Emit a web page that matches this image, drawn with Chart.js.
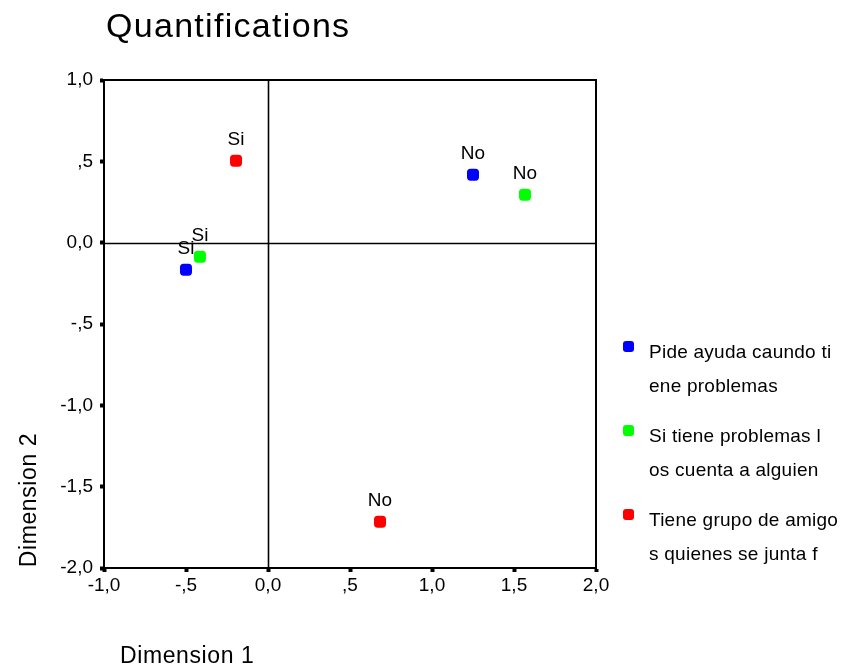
<!DOCTYPE html>
<html>
<head>
<meta charset="utf-8">
<title>Quantifications</title>
<script src="https://cdn.jsdelivr.net/npm/chart.js@4.4.1/dist/chart.umd.min.js"></script>
<style>
  html, body { margin: 0; padding: 0; background: #ffffff; }
  #wrap { width: 844px; height: 665px; position: relative; }
</style>
</head>
<body>
<div id="wrap"><canvas id="c" width="844" height="665"></canvas></div>
<script>
// Category quantifications on the two dimensions
const categories = ['Si', 'No'];
const pideDim1 = [-0.50, 1.25];
const pideDim2 = [-0.166, 0.418];
const cuentaDim1 = [-0.415, 1.567];
const cuentaDim2 = [-0.086, 0.295];
const grupoDim1 = [-0.195, 0.683];
const grupoDim2 = [0.504, -1.715];

const seriesNames = [
  ['Pide ayuda caundo ti', 'ene problemas'],
  ['Si tiene problemas l', 'os cuenta a alguien'],
  ['Tiene grupo de amigo', 's quienes se junta f']
];
const seriesColors = ['#0000ff', '#00ff00', '#ff0000'];

const xTickValues = [-1, -0.5, 0, 0.5, 1, 1.5, 2];
const xTickLabels = ['-1,0', '-,5', '0,0', ',5', '1,0', '1,5', '2,0'];
const yTickValues = [-2, -1.5, -1, -0.5, 0, 0.5, 1];
const yTickLabels = ['-2,0', '-1,5', '-1,0', '-,5', '0,0', ',5', '1,0'];

const FONT = "'Liberation Sans', Arial, sans-serif";

function toPoints(xs, ys) {
  return xs.map((x, i) => ({ x: x, y: ys[i], label: categories[i] }));
}

function labelFor(values, labels, v) {
  const i = values.findIndex(t => Math.abs(t - v) < 1e-9);
  return i >= 0 ? labels[i] : '';
}

const dataSets = [
  toPoints(pideDim1, pideDim2),
  toPoints(cuentaDim1, cuentaDim2),
  toPoints(grupoDim1, grupoDim2)
];

// Frame, zero reference lines, point labels, legend and titles
const decorations = {
  id: 'decorations',
  beforeDatasetsDraw(chart) {
    const ctx = chart.ctx;
    const a = chart.chartArea;
    const xs = chart.scales.x, ys = chart.scales.y;
    ctx.save();
    ctx.strokeStyle = '#000';
    ctx.lineWidth = 1.6;
    const x0 = Math.round(xs.getPixelForValue(0)) + 0.5;
    const y0 = Math.round(ys.getPixelForValue(0)) + 0.5;
    ctx.beginPath();
    ctx.moveTo(x0, a.top); ctx.lineTo(x0, a.bottom);
    ctx.moveTo(a.left, y0); ctx.lineTo(a.right, y0);
    ctx.stroke();
    ctx.lineWidth = 2;
    ctx.strokeRect(a.left, a.top, a.right - a.left, a.bottom - a.top);
    ctx.restore();
  },
  afterDraw(chart) {
    const ctx = chart.ctx;
    const a = chart.chartArea;
    ctx.save();
    ctx.fillStyle = '#000';

    // point labels
    ctx.font = '19px ' + FONT;
    ctx.textAlign = 'center';
    ctx.textBaseline = 'middle';
    chart.data.datasets.forEach((ds, di) => {
      const meta = chart.getDatasetMeta(di);
      meta.data.forEach((el, i) => {
        ctx.fillText(ds.data[i].label, el.x, el.y - 21);
      });
    });

    // title
    ctx.textAlign = 'left';
    ctx.textBaseline = 'alphabetic';
    ctx.font = '34px ' + FONT;
    ctx.letterSpacing = '1.3px';
    ctx.fillText('Quantifications', a.left + 2, 37);

    // axis titles
    ctx.font = '23px ' + FONT;
    ctx.letterSpacing = '0.6px';
    ctx.fillText('Dimension 1', 120, 663);
    ctx.save();
    ctx.translate(36, 500);
    ctx.rotate(-Math.PI / 2);
    ctx.textAlign = 'center';
    ctx.fillText('Dimension 2', 0, 0);
    ctx.restore();

    // legend
    ctx.font = '19px ' + FONT;
    ctx.letterSpacing = '0.25px';
    ctx.textBaseline = 'middle';
    const legendX = a.right + 53;
    const legendTop = 353;
    seriesNames.forEach((lines, i) => {
      const y = legendTop + i * 84;
      ctx.fillStyle = seriesColors[i];
      ctx.beginPath();
      ctx.roundRect(legendX - 26, y - 12, 11, 11, 3);
      ctx.fill();
      ctx.fillStyle = '#000';
      lines.forEach((t, j) => ctx.fillText(t, legendX, y + j * 34));
    });
    ctx.restore();
  }
};

new Chart(document.getElementById('c'), {
  type: 'scatter',
  data: {
    datasets: dataSets.map((d, i) => ({
      label: seriesNames[i].join(''),
      data: d,
      backgroundColor: seriesColors[i],
      borderColor: seriesColors[i],
      borderWidth: 0,
      pointStyle: 'rectRounded',
      pointRadius: 7,
      pointHoverRadius: 7
    }))
  },
  options: {
    responsive: false,
    animation: false,
    events: [],
    layout: { padding: { top: 80, right: 248, left: 0, bottom: 0 } },
    plugins: { legend: { display: false }, title: { display: false }, tooltip: { enabled: false } },
    scales: {
      x: {
        type: 'linear',
        position: 'bottom',
        min: -1, max: 2,
        afterFit(scale) { scale.height = 97; },
        afterBuildTicks(scale) { scale.ticks = xTickValues.map(v => ({ value: v })); },
        ticks: {
          color: '#000',
          font: { family: FONT, size: 19 },
          padding: 2,
          maxRotation: 0,
          callback: v => labelFor(xTickValues, xTickLabels, v)
        },
        grid: { drawOnChartArea: false, drawTicks: true, tickLength: 4, tickWidth: 4, color: '#000' },
        border: { display: true, color: '#000', width: 2 }
      },
      y: {
        type: 'linear',
        min: -2, max: 1,
        afterFit(scale) { scale.width = 104; },
        afterBuildTicks(scale) { scale.ticks = yTickValues.map(v => ({ value: v })); },
        ticks: {
          color: '#000',
          font: { family: FONT, size: 19 },
          padding: 7,
          callback: v => labelFor(yTickValues, yTickLabels, v)
        },
        grid: { drawOnChartArea: false, drawTicks: true, tickLength: 4, tickWidth: 4, color: '#000' },
        border: { display: true, color: '#000', width: 2 }
      }
    }
  },
  plugins: [decorations]
});
</script>
</body>
</html>
